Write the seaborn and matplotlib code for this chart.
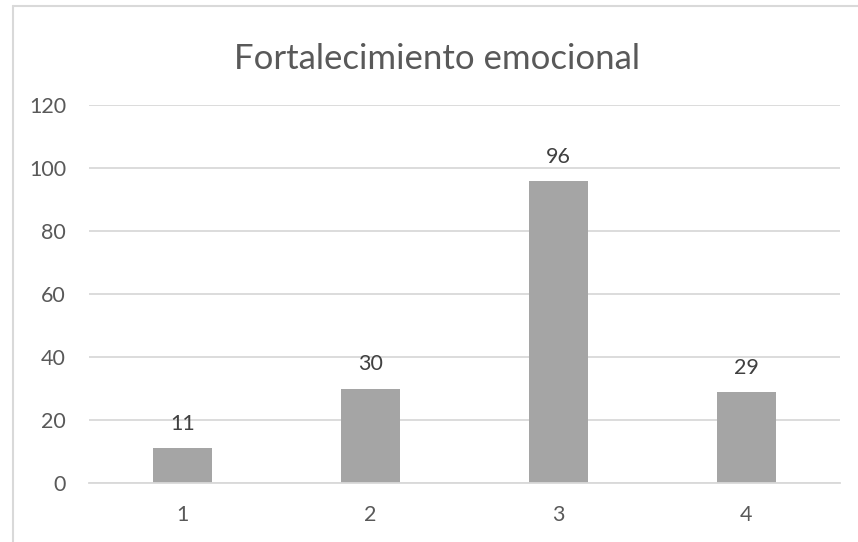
import matplotlib
matplotlib.use("Agg")
import matplotlib.pyplot as plt
import seaborn as sns
import pandas as pd
from matplotlib.lines import Line2D

categories = ["1", "2", "3", "4"]
values = [11, 30, 96, 29]
y_ticks = [0, 20, 40, 60, 80, 100, 120]
title = "Fortalecimiento emocional"

sns.set_theme(style="white")
plt.rcParams["font.family"] = ["Lato", "DejaVu Sans"]

W, H = 858, 542
fig = plt.figure(figsize=(W / 100, H / 100), dpi=100)
ax = fig.add_axes([89 / W, 1 - 483 / H, (840 - 89) / W, (483 - 105) / H])

df = pd.DataFrame({"cat": categories, "val": values})
sns.barplot(data=df, x="cat", y="val", color="#A5A5A5", saturation=1,
            width=0.315, ax=ax, edgecolor="none")

ax.set_ylim(0, 120)
ax.set_xlim(-0.5, 3.5)
ax.set_yticks(y_ticks)
ax.set_yticklabels([str(t) for t in y_ticks])
ax.yaxis.grid(True, color="#D9D9D9", linewidth=1.3)
ax.set_axisbelow(True)
for s in ["top", "right", "left"]:
    ax.spines[s].set_visible(False)
ax.spines["bottom"].set_color("#D9D9D9")
ax.spines["bottom"].set_linewidth(1.3)
ax.tick_params(axis="y", length=0, pad=16.5, labelsize=15.5, labelcolor="#595959")
ax.tick_params(axis="x", length=0, pad=16, labelsize=15.5, labelcolor="#595959")
ax.set_xlabel("")
ax.set_ylabel("")

for i, v in enumerate(values):
    ax.annotate(str(v), xy=(i, v), xytext=(0, 13), textcoords="offset points",
                ha="center", va="baseline", fontsize=15.5, color="#404040")

fig.text(437.5 / W, 1 - 69 / H, title, ha="center", va="baseline",
         fontsize=25, color="#595959")

# chart border (left and top edges visible)
fig.add_artist(Line2D([13 / W, 13 / W], [0, 1 - 6 / H], transform=fig.transFigure,
                      color="#D9D9D9", linewidth=1.5))
fig.add_artist(Line2D([13 / W, 1], [1 - 6 / H, 1 - 6 / H], transform=fig.transFigure,
                      color="#D9D9D9", linewidth=1.5))

fig.savefig("out.png", dpi=100, facecolor="white")
